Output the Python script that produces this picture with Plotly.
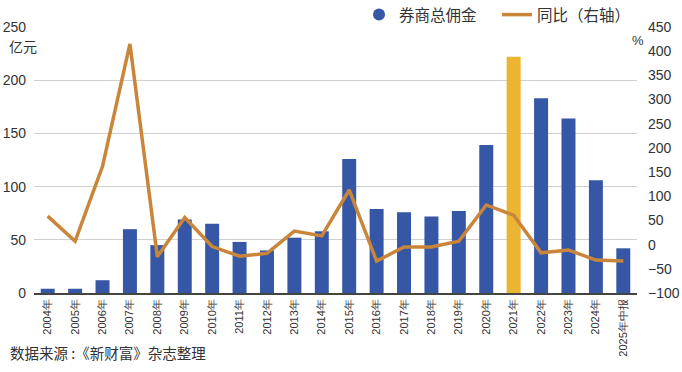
import plotly.graph_objects as go

years = ["2004年", "2005年", "2006年", "2007年", "2008年", "2009年", "2010年", "2011年",
         "2012年", "2013年", "2014年", "2015年", "2016年", "2017年", "2018年", "2019年",
         "2020年", "2021年", "2022年", "2023年", "2024年", "2025年中报"]
commission = [4, 4, 12, 60, 45, 69, 65, 48, 40, 52, 58, 126, 79, 76, 72, 77,
              139, 222, 183, 164, 106, 42]
yoy = [59, 7, 162, 415, -25, 56, -4, -24, -18, 28, 18, 113, -34, -5, -5, 7,
       82, 61, -17, -11, -32, -34]
left_ticks = [0, 50, 100, 150, 200, 250]
right_ticks = [-100, -50, 0, 50, 100, 150, 200, 250, 300, 350, 400, 450]
highlight = "2021年"

BLUE = "#3557a5"
GOLD = "#ebb431"
ORANGE = "#c9863a"
TXT = "#333333"
NUM_FONT = "Liberation Sans Narrow, Liberation Sans, sans-serif"
CJK = "Noto Sans CJK SC"

bar_colors = [GOLD if y == highlight else BLUE for y in years]

fig = go.Figure()
fig.add_trace(go.Bar(x=years, y=commission, marker=dict(color=bar_colors, line_width=0),
                     showlegend=False, name="券商总佣金", yaxis="y"))
fig.add_trace(go.Scatter(x=[None], y=[None], mode="markers", name="券商总佣金",
                         marker=dict(symbol="circle", size=12, color=BLUE)))
fig.add_trace(go.Scatter(x=years, y=yoy, mode="lines", name="同比（右轴）",
                         line=dict(color=ORANGE, width=3.5), yaxis="y2"))

fig.update_layout(
    width=682, height=372,
    margin=dict(l=34, r=45, t=27, b=79, pad=0, autoexpand=False),
    paper_bgcolor="white", plot_bgcolor="white",
    bargap=0.49,
    font=dict(family=CJK, color=TXT),
    legend=dict(orientation="h", x=0.539, xanchor="left", y=1.045, yanchor="middle",
                font=dict(family=CJK, size=15.5, color=TXT), bgcolor="rgba(0,0,0,0)",
                entrywidth=93, entrywidthmode="pixels", tracegroupgap=0),
    xaxis=dict(type="category", tickangle=-90, showgrid=False, showline=True,
               linecolor="#444", linewidth=1.5, ticks="", automargin=False,
               tickfont=dict(family=NUM_FONT, size=11, color=TXT)),
    yaxis=dict(range=[0, 250], tickvals=left_ticks, showgrid=True, gridcolor="#d0d0d0",
               gridwidth=1, zeroline=False, showline=False, ticks="", automargin=False,
               ticklabelstandoff=7,
               tickfont=dict(family=NUM_FONT, size=14, color=TXT)),
    yaxis2=dict(range=[-100, 450], tickvals=right_ticks, overlaying="y", side="right",
                showgrid=False, zeroline=False, showline=False, ticks="", automargin=False,
                ticklabelstandoff=10,
                tickfont=dict(family=NUM_FONT, size=14, color=TXT)),
)

fig.add_annotation(text="亿元", xref="paper", yref="paper", x=-0.045, y=0.93,
                   xanchor="left", yanchor="middle", showarrow=False,
                   font=dict(family=CJK, size=14, color=TXT))
fig.add_annotation(text="%", xref="paper", yref="paper", x=0.988, y=0.95,
                   xanchor="left", yanchor="middle", showarrow=False,
                   font=dict(family=NUM_FONT, size=13, color=TXT))
fig.add_annotation(text="数据来源 :《新财富》杂志整理", xref="paper", yref="paper",
                   x=-0.043, y=-0.223, xanchor="left", yanchor="middle", showarrow=False,
                   font=dict(family=CJK, size=14.5, color=TXT))

fig.write_html("out.html", config={"displayModeBar": False},
               post_script="document.body.style.margin='0px';")
